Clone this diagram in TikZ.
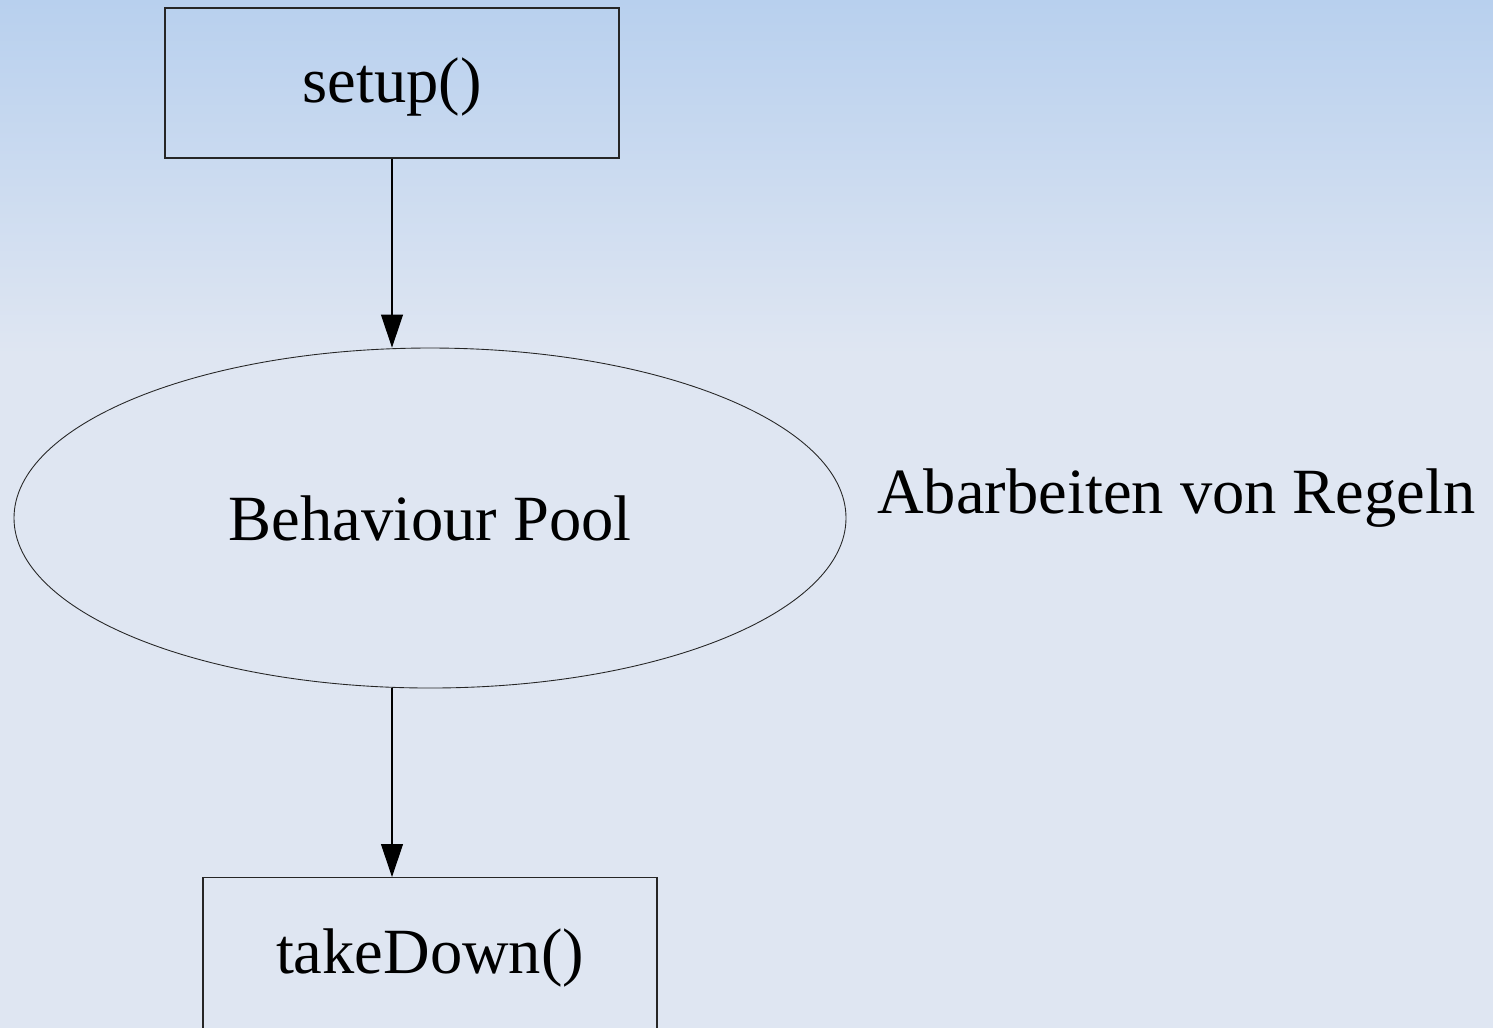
\documentclass[tikz,border=0pt]{standalone}
\usepackage{fontspec}
\setmainfont{Liberation Serif}
\usetikzlibrary{positioning,arrows.meta,shapes.geometric}
\definecolor{bgtop}{HTML}{B8D0EE}
\definecolor{bgbot}{HTML}{DFE6F2}
\begin{document}
\begin{tikzpicture}[
  box/.style={draw=black!85, line width=0.6pt, minimum width=9.08cm, minimum height=3cm, inner sep=0pt, font=\fontsize{36.7}{44}\selectfont},
  pool/.style={ellipse, draw=black!85, line width=0.5pt, minimum width=16.64cm, minimum height=6.8cm, inner sep=0pt, font=\fontsize{36.7}{44}\selectfont},
  note/.style={inner sep=0pt, font=\fontsize{36.7}{44}\selectfont},
  arr/.style={line width=0.6pt, -{Triangle[length=0.66cm, width=0.44cm]}}
]
\useasboundingbox (0,0) rectangle (29.86,-20.54);
\clip (0,0) rectangle (29.86,-20.54);
% background
\fill[top color=bgtop, bottom color=bgbot] (0,0) rectangle (29.86,-7.1);
\fill[bgbot] (0,-7.1) rectangle (29.86,-20.6);
\node[box] (setup) at (7.84,-1.66) {};
\node[note] (setuplabel) at (7.84,-1.74) {setup()};
\node[pool] (bpool) at (8.6,-10.36) {Behaviour Pool};
\node[box, anchor=north, minimum height=3.4cm] (takedown) at (8.6,-17.54) {};
\node[note] (tdlabel) at (8.6,-19.16) {takeDown()};
\node[note, anchor=base west] (rules) at (17.54,-10.26) {Abarbeiten von Regeln};
\draw[arr] (setup.south) -- (setup.south |- bpool.north);
\draw[arr] (setup.south |- bpool.south) -- (setup.south |- takedown.north);
\end{tikzpicture}
\end{document}
